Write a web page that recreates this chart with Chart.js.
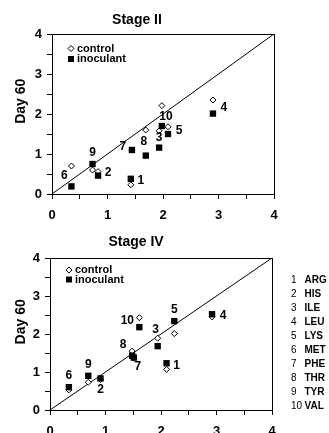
<!DOCTYPE html>
<html>
<head>
<meta charset="utf-8">
<script src="https://cdn.jsdelivr.net/npm/chart.js@4.4.1/dist/chart.umd.min.js"></script>
<style>
  html, body { margin: 0; padding: 0; background: #fff; }
  body { width: 329px; height: 433px; overflow: hidden; position: relative;
         font-family: "Liberation Sans", Arial, sans-serif; color: #000; }
  canvas { position: absolute; left: 0; }
  #c1 { top: 0; }
  #c2 { top: 225px; }
  #key { position: absolute; left: 291px; top: 273px; font-size: 10px; line-height: 14px; white-space: nowrap; }
  #key .n { display: inline-block; width: 13.5px; font-weight: normal; }
  #key .a { font-weight: bold; }
</style>
</head>
<body>
<canvas id="c1" width="329" height="225"></canvas>
<canvas id="c2" width="329" height="208"></canvas>
<div id="key"></div>
<script>
// ---- data ----
const aminoAcids = ['ARG', 'HIS', 'ILE', 'LEU', 'LYS', 'MET', 'PHE', 'THR', 'TYR', 'VAL'];
const axisTicks = [0, 1, 2, 3, 4];
const seriesNames = ['control', 'inoculant'];
const stageTitles = ['Stage II', 'Stage IV'];
const yAxisTitle = 'Day 60';

// x value of each amino acid (shared by both series), y values at Day 60
const stageIIx         = [1.42, 0.83, 1.93, 2.90, 2.09, 0.35, 1.44, 1.69, 0.73, 1.98];
const stageIIControl   = [0.23, 0.56, 1.58, 2.35, 1.68, 0.70, 1.10, 1.60, 0.60, 2.21];
const stageIIInoculant = [0.38, 0.46, 1.16, 2.01, 1.50, 0.19, 1.10, 0.96, 0.75, 1.70];

const stageIVx         = [2.10, 0.91, 1.94, 2.92, 2.24, 0.34, 1.51, 1.48, 0.69, 1.61];
const stageIVControl   = [1.07, 0.80, 1.89, 2.45, 2.01, 0.53, 1.36, 1.55, 0.73, 2.43];
const stageIVInoculant = [1.23, 0.83, 1.68, 2.52, 2.34, 0.60, 1.38, 1.43, 0.90, 2.18];

// ---- layout / style (not data) ----
const FONT = '"Liberation Sans", Arial, sans-serif';
Chart.defaults.font.family = FONT;
Chart.defaults.color = '#000';

const stageIILabelOffsets = [[10,2],[10,-3],[0,-9.5],[11,-6],[11,-3],[-7,-11],[-9,-3],[-2,-14],[0,-11],[4,-9.5]];
const stageIVLabelOffsets = [[10,2],[0,11],[-2,-16],[11,1],[0,-11],[0,-12],[4,9],[-9,-11],[0,-11],[-12,-6]];

const framePlugin = {
  id: 'frame',
  afterDatasetsDraw(chart) {
    const a = chart.chartArea, ctx = chart.ctx;
    ctx.save();
    ctx.strokeStyle = '#000';
    ctx.lineWidth = 1;
    ctx.strokeRect(Math.round(a.left) + 0.5, Math.round(a.top) + 0.5,
                   Math.round(a.right - a.left), Math.round(a.bottom - a.top));
    ctx.restore();
  }
};

const pointNumbersPlugin = {
  id: 'pointNumbers',
  afterDatasetsDraw(chart, args, opts) {
    const meta = chart.getDatasetMeta(0);
    const ctx = chart.ctx;
    ctx.save();
    ctx.font = 'bold 12px ' + FONT;
    ctx.fillStyle = '#000';
    ctx.textAlign = 'center';
    ctx.textBaseline = 'middle';
    meta.data.forEach((pt, i) => {
      const off = opts.offsets[i];
      ctx.fillText(String(i + 1), pt.x + off[0], pt.y + off[1]);
    });
    ctx.restore();
  }
};

const innerKeyPlugin = {
  id: 'innerKey',
  afterDatasetsDraw(chart, args, opts) {
    const a = chart.chartArea, ctx = chart.ctx;
    const mx = a.left + opts.dx;
    ctx.save();
    ctx.font = 'bold 11px ' + FONT;
    ctx.textBaseline = 'middle';
    ctx.textAlign = 'left';
    // control marker (open diamond)
    let y = a.top + opts.rows[0];
    ctx.fillStyle = '#fff'; ctx.strokeStyle = '#000'; ctx.lineWidth = 1;
    ctx.beginPath();
    ctx.moveTo(mx, y - 3); ctx.lineTo(mx + 3, y); ctx.lineTo(mx, y + 3); ctx.lineTo(mx - 3, y); ctx.closePath();
    ctx.fill(); ctx.stroke();
    ctx.fillStyle = '#000';
    ctx.fillText(seriesNames[0], mx + 6, y);
    // inoculant marker (filled square)
    y = a.top + opts.rows[1];
    ctx.fillRect(mx - 3, y - 3, 6, 6);
    ctx.fillText(seriesNames[1], mx + 6, y);
    ctx.restore();
  }
};

const yTitlePlugin = {
  id: 'yTitle',
  afterDraw(chart, args, opts) {
    const a = chart.chartArea, ctx = chart.ctx;
    ctx.save();
    ctx.translate(opts.x, a.top + (a.bottom - a.top) * 0.42);
    ctx.rotate(-Math.PI / 2);
    ctx.font = 'bold 14px ' + FONT;
    ctx.fillStyle = '#000';
    ctx.textAlign = 'center';
    ctx.textBaseline = 'middle';
    ctx.fillText(yAxisTitle, 0, 0);
    ctx.restore();
  }
};

function points(xs, ys) { return xs.map((x, i) => ({x: x, y: ys[i]})); }

function makeChart(canvasId, title, xs, ctrl, inoc, offsets, g) {
  const lo = axisTicks[0], hi = axisTicks[axisTicks.length - 1];
  const axis = (afterFit) => ({
    type: 'linear', min: lo, max: hi,
    afterFit: afterFit,
    ticks: {
      stepSize: 0.5, autoSkip: false, color: '#000',
      font: {size: 13, weight: 'bold'},
      padding: 5,
      callback: (v) => axisTicks.includes(v) ? String(v) : ''
    },
    grid: { display: true, drawOnChartArea: false, drawTicks: true, tickLength: 5,
            color: '#000', tickColor: '#000', lineWidth: 1 },
    border: { display: true, color: '#000', width: 1 }
  });
  const xScale = axis((s) => { s.height = g.xh; });
  xScale.ticks.padding = g.xpad;
  const yScale = axis((s) => { s.width = g.yw; });
  return new Chart(document.getElementById(canvasId), {
    type: 'scatter',
    data: {
      datasets: [
        { label: seriesNames[1], data: points(xs, inoc), pointStyle: 'rect', pointRadius: 4.5,
          backgroundColor: '#000', borderColor: '#000', borderWidth: 0, order: 0 },
        { label: seriesNames[0], data: points(xs, ctrl), pointStyle: 'rectRot', pointRadius: 3,
          backgroundColor: '#fff', borderColor: '#000', borderWidth: 1, order: 1 },
        { label: '1:1', data: [{x: lo, y: lo}, {x: hi, y: hi}], showLine: true, pointRadius: 0,
          borderColor: '#000', borderWidth: 1, order: 2 }
      ]
    },
    options: {
      responsive: false, animation: false, devicePixelRatio: 1,
      layout: { padding: { left: 0, right: g.right, top: 0, bottom: 0 } },
      scales: { x: xScale, y: yScale },
      plugins: {
        legend: { display: false },
        tooltip: { enabled: false },
        title: { display: true, text: title, color: '#000',
                 font: { size: 14, weight: 'bold' },
                 padding: { top: g.tTop, bottom: g.tBottom } },
        pointNumbers: { offsets: offsets },
        innerKey: { dx: 19, rows: g.keyRows },
        yTitle: { x: 21 }
      }
    },
    plugins: [framePlugin, pointNumbersPlugin, innerKeyPlugin, yTitlePlugin]
  });
}

makeChart('c1', stageTitles[0], stageIIx, stageIIControl, stageIIInoculant, stageIILabelOffsets,
  { xh: 31, yw: 52, right: 55, tTop: 12, tBottom: 5.2, xpad: 9, keyRows: [14.5, 25] });
makeChart('c2', stageTitles[1], stageIVx, stageIVControl, stageIVInoculant, stageIVLabelOffsets,
  { xh: 23, yw: 50, right: 57, tTop: 8.6, tBottom: 7.6, xpad: 9, keyRows: [12, 21.5] });

// amino acid key on the right
const key = document.getElementById('key');
aminoAcids.forEach((name, i) => {
  const row = document.createElement('div');
  const n = document.createElement('span'); n.className = 'n'; n.textContent = String(i + 1);
  const a = document.createElement('span'); a.className = 'a'; a.textContent = name;
  row.appendChild(n); row.appendChild(a);
  key.appendChild(row);
});
</script>
</body>
</html>
